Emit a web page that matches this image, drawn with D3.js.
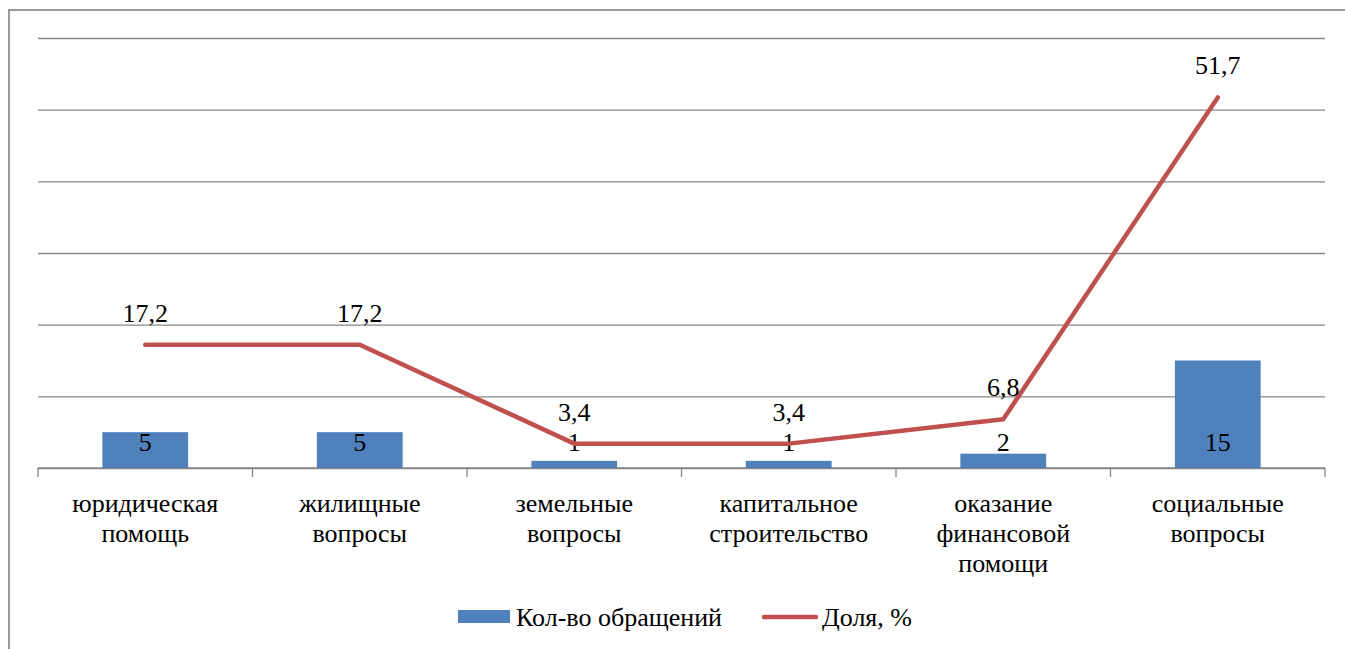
<!DOCTYPE html>
<html>
<head>
<meta charset="utf-8">
<script src="https://cdn.jsdelivr.net/npm/d3@7"></script>
<style>
  body { margin: 0; background: #fff; }
</style>
</head>
<body>
<svg id="chart" width="1345" height="649"></svg>
<script>
// data
var categories = [
    ["юридическая", "помощь"],
    ["жилищные", "вопросы"],
    ["земельные", "вопросы"],
    ["капитальное", "строительство"],
    ["оказание", "финансовой", "помощи"],
    ["социальные", "вопросы"]
];
var counts = [5, 5, 1, 1, 2, 15];            // Кол-во обращений
var shares = [17.2, 17.2, 3.4, 3.4, 6.8, 51.7]; // Доля, %
var shareLabels = ["17,2", "17,2", "3,4", "3,4", "6,8", "51,7"];
var gridTicks = [0, 10, 20, 30, 40, 50, 60];

var svg = d3.select("#chart")
    .style("font-family", "'Liberation Serif', 'Times New Roman', Times, serif");
var fontSize = "26px";

// outer frame of the chart object
svg.append("rect")
    .attr("x", 9).attr("y", 10)
    .attr("width", 1400).attr("height", 700)
    .attr("fill", "none")
    .attr("stroke", "#9a9a9a")
    .attr("stroke-width", 2);

var plotLeft = 38, plotRight = 1325, plotTop = 38, plotBottom = 468;

var idx = categories.map(function(d, i) { return i; });

var x = d3.scaleBand()
    .domain(idx)
    .range([plotLeft, plotRight])
    .paddingInner(0.6)
    .paddingOuter(0.3);

var step = x.step();
function cx(i) { return x(i) + x.bandwidth() / 2; }

var y = d3.scaleLinear().domain([0, 60]).range([plotBottom, plotTop]);

// horizontal gridlines
var grid = svg.append("g")
    .attr("transform", "translate(" + plotLeft + ",0)")
    .call(d3.axisLeft(y).tickValues(gridTicks).tickSize(-(plotRight - plotLeft)).tickFormat(""));
grid.select(".domain").remove();
grid.selectAll(".tick line")
    .attr("stroke", "#878787")
    .attr("stroke-width", 1.3);

// category axis with tick marks between groups
var boundaries = d3.range(categories.length + 1).map(function(i) { return plotLeft + i * step; });
svg.append("line")
    .attr("x1", plotLeft).attr("x2", plotRight)
    .attr("y1", y(0)).attr("y2", y(0))
    .attr("stroke", "#878787").attr("stroke-width", 1.3);
svg.selectAll(".xtick")
    .data(boundaries)
    .enter().append("line")
    .attr("class", "xtick")
    .attr("x1", function(d) { return d; }).attr("x2", function(d) { return d; })
    .attr("y1", y(0)).attr("y2", y(0) + 9)
    .attr("stroke", "#878787").attr("stroke-width", 1.3);

// category labels
var catG = svg.selectAll(".cat")
    .data(categories)
    .enter().append("text")
    .attr("class", "cat")
    .attr("text-anchor", "middle")
    .attr("font-family", "Liberation Serif")
    .attr("font-size", fontSize);
catG.selectAll("tspan")
    .data(function(d, i) { return d.map(function(t) { return {t: t, i: i}; }); })
    .enter().append("tspan")
    .attr("x", function(d) { return cx(d.i); })
    .attr("y", function(d, j) { return 512 + j * 30; })
    .text(function(d) { return d.t; });

// bars
svg.selectAll(".bar")
    .data(counts)
    .enter().append("rect")
    .attr("class", "bar")
    .attr("x", function(d, i) { return x(i); })
    .attr("width", x.bandwidth())
    .attr("y", function(d) { return y(d); })
    .attr("height", function(d) { return y(0) - y(d); })
    .attr("fill", "#4f81bd");

// bar value labels
svg.selectAll(".barlabel")
    .data(counts)
    .enter().append("text")
    .attr("class", "barlabel")
    .attr("text-anchor", "middle")
    .attr("font-family", "Liberation Serif")
    .attr("font-size", fontSize)
    .attr("x", function(d, i) { return cx(i); })
    .attr("y", y(0) - 17)
    .text(function(d) { return d; });

// share line
var line = d3.line()
    .x(function(d, i) { return cx(i); })
    .y(function(d) { return y(d); });

svg.append("path")
    .datum(shares)
    .attr("d", line)
    .attr("fill", "none")
    .attr("stroke", "#c0504d")
    .attr("stroke-width", 4.5)
    .attr("stroke-linejoin", "round")
    .attr("stroke-linecap", "round");

// share labels
svg.selectAll(".sharelabel")
    .data(shares)
    .enter().append("text")
    .attr("class", "sharelabel")
    .attr("text-anchor", "middle")
    .attr("font-family", "Liberation Serif")
    .attr("font-size", fontSize)
    .attr("x", function(d, i) { return cx(i); })
    .attr("y", function(d) { return y(d) - 23; })
    .text(function(d, i) { return shareLabels[i]; });

// legend
var legend = svg.append("g")
    .attr("font-family", "Liberation Serif")
    .attr("font-size", fontSize);
legend.append("rect")
    .attr("x", 458).attr("y", 610)
    .attr("width", 52).attr("height", 13)
    .attr("fill", "#4f81bd");
legend.append("text")
    .attr("x", 516).attr("y", 626)
    .text("Кол-во обращений");
legend.append("line")
    .attr("x1", 764).attr("x2", 816)
    .attr("y1", 617).attr("y2", 617)
    .attr("stroke", "#c0504d")
    .attr("stroke-width", 4.5)
    .attr("stroke-linecap", "round");
legend.append("text")
    .attr("x", 822).attr("y", 626)
    .text("Доля, %");
</script>
</body>
</html>
